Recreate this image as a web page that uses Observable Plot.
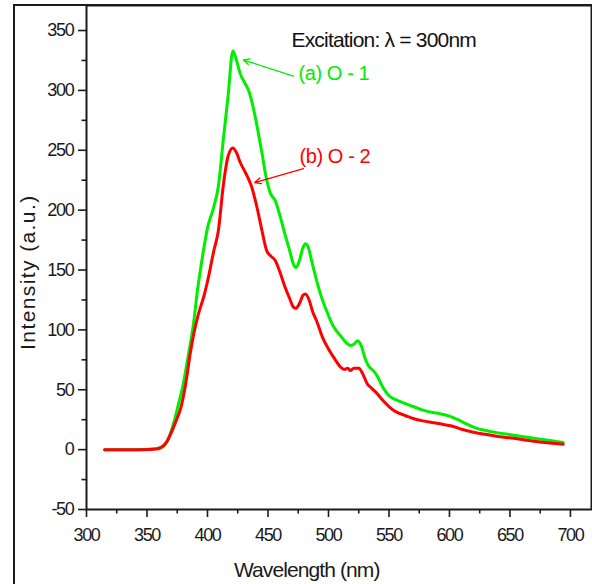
<!DOCTYPE html>
<html>
<head>
<meta charset="utf-8">
<script src="https://cdn.jsdelivr.net/npm/d3@7"></script>
<script src="https://cdn.jsdelivr.net/npm/@observablehq/plot@0.6"></script>
<style>
  body { margin: 0; background: #fff; }
  #wrap { position: relative; width: 592px; height: 584px; overflow: hidden; }
  #border { position: absolute; left: 13px; top: 4px; width: 600px; height: 600px;
            border-left: 2px solid #1a1a1a; border-top: 2px solid #1a1a1a; pointer-events: none; }
  svg { font-family: "Liberation Sans", Arial, sans-serif; }
</style>
</head>
<body>
<div id="wrap"><div id="border"></div></div>
<script>
// Wavelength (nm) and intensity (a.u.) for sample O-1 (green)
const wlO1 = [315, 340, 355, 360, 364, 368, 372, 376, 380, 384, 388, 392, 396, 400, 405, 409, 413, 417, 421, 424, 427, 431, 434, 438, 441, 445, 448, 452, 456, 460, 464, 468, 471, 473, 476, 479, 481, 483, 486, 490, 494, 498, 504, 510, 515, 518, 521, 524, 527, 530, 533, 537, 540, 545, 550, 555, 562, 570, 578, 586, 592, 600, 607, 615, 622, 630, 640, 650, 660, 670, 680, 694];
const intO1 = [0, 0, 0.5, 1.5, 3, 10, 22, 38, 55, 78, 102, 135, 162, 185, 202, 220, 258, 295, 333, 325, 314, 306, 300, 285, 270, 248, 230, 214, 208, 195, 180, 166, 155, 152, 158, 169, 172, 170, 158, 142, 128, 117, 103, 95, 89, 87, 88, 91, 87, 77, 70, 66, 62, 52, 45, 42, 39, 36, 33, 31, 30, 28, 25, 21, 18, 16, 14, 12.5, 11, 9.5, 8, 6];

// Sample O-2 (red)
const wlO2 = [315, 345, 358, 362, 366, 370, 374, 378, 382, 386, 390, 393, 397, 401, 405, 409, 413, 417, 421, 424, 427, 430, 433, 436, 441, 445, 449, 452, 456, 460, 464, 468, 471, 473, 476, 479, 481, 484, 487, 490, 495, 500, 505, 510, 513, 516, 518, 521, 525, 528, 532, 536, 540, 545, 550, 555, 562, 570, 578, 587, 595, 601, 610, 620, 628, 640, 656, 670, 683, 694];
const intO2 = [0, 0, 0.5, 2, 6, 14, 24, 35, 55, 82, 103, 115, 128, 145, 165, 183, 220, 245, 252, 248, 240, 234, 228, 221, 202, 183, 166, 162, 158, 148, 136, 126, 119, 118, 122, 129, 130, 125, 115, 108, 94, 84, 76, 69, 67, 68, 66, 68, 68, 64, 55, 51, 47, 41, 36, 32, 29, 26, 24, 22.5, 21, 20, 17, 14.5, 13, 11, 9, 7, 5.5, 4.5];

const seriesNames = ["O-1", "O-2"];
const seriesColors = ["#00ee00", "#ff0000"];

// Tick values
const xMajor = [300, 350, 400, 450, 500, 550, 600, 650, 700];
const xMinor = [325, 375, 425, 475, 525, 575, 625, 675];
const yMajor = [-50, 0, 50, 100, 150, 200, 250, 300, 350];
const yMinor = [-25, 25, 75, 125, 175, 225, 275, 325];

// Annotations
const annoText = ["Excitation: \u03bb = 300nm", "(a) O - 1", "(b) O - 2"];
const annoX = [469.4, 475.2, 476.0];
const annoY = [341.5, 313.7, 244.7];
const annoColor = ["#111111", "#00ee00", "#ff0000"];

const arrowX1 = [471, 479.3];
const arrowY1 = [312, 234.6];
const arrowX2 = [429.5, 439];
const arrowY2 = [325.5, 223];
const arrowColor = ["#00ee00", "#ff0000"];

const xTitle = "Wavelength (nm)";
const yTitle = "Intensity (a.u.)";

const dataO1 = wlO1.map((w, i) => ({wl: w, v: intO1[i], s: seriesNames[0]}));
const dataO2 = wlO2.map((w, i) => ({wl: w, v: intO2[i], s: seriesNames[1]}));
const annos = annoText.map((t, i) => ({t, x: annoX[i], y: annoY[i], c: annoColor[i]}));
const arrows = arrowX1.map((x, i) => ({x1: x, y1: arrowY1[i], x2: arrowX2[i], y2: arrowY2[i], c: arrowColor[i]}));

const fmt = d => String(d);

const chart = Plot.plot({
  width: 592,
  height: 584,
  marginLeft: 86,
  marginRight: 1,
  marginTop: 5,
  marginBottom: 75,
  style: {fontFamily: "'Liberation Sans', Arial, sans-serif", color: "#1a1a1a", background: "transparent"},
  x: {domain: [300, 717.4], axis: null},
  y: {domain: [-50, 370.9], axis: null},
  marks: [
    Plot.axisX(xMajor, {tickSize: 8, tickPadding: 11, fontSize: 18, label: null, strokeWidth: 1.6, tickFormat: fmt}),
    Plot.axisX(xMinor, {tickSize: 4.5, tickFormat: () => "", label: null, strokeWidth: 1.6}),
    Plot.axisY(yMajor, {tickSize: 8, tickPadding: 5, fontSize: 18, label: null, strokeWidth: 1.6, tickFormat: fmt}),
    Plot.axisY(yMinor, {tickSize: 4.5, tickFormat: () => "", label: null, strokeWidth: 1.6}),
    Plot.line(dataO1, {x: "wl", y: "v", stroke: seriesColors[0], strokeWidth: 3, curve: "monotone-x"}),
    Plot.line(dataO2, {x: "wl", y: "v", stroke: seriesColors[1], strokeWidth: 3, curve: "monotone-x"}),
    Plot.arrow(arrows, {x1: "x1", y1: "y1", x2: "x2", y2: "y2", stroke: "c", strokeWidth: 1.3, headLength: 8, headAngle: 50}),
    Plot.text(annos, {x: "x", y: "y", text: "t", fill: "c", textAnchor: "start", fontSize: 20, lineAnchor: "middle"}),
    Plot.text([xTitle], {x: 482, frameAnchor: "bottom", dy: 61, fontSize: 21, textAnchor: "middle", lineAnchor: "middle"}),
    Plot.text([yTitle], {y: 148.2, frameAnchor: "left", dx: -58, rotate: -90, fontSize: 21, textAnchor: "middle", lineAnchor: "middle"}),
    Plot.frame({stroke: "#1a1a1a", strokeWidth: 2})
  ]
});

document.getElementById("wrap").prepend(chart);

// typographic fine-tuning to match condensed look of original
const svg = d3.select(chart);
svg.selectAll('[aria-label="x-axis tick label"] text, [aria-label="y-axis tick label"] text').attr("letter-spacing", "-1.3px");
svg.selectAll('[aria-label="text"] text').each(function() {
  const t = this.textContent;
  if (t === xTitle) d3.select(this).attr("letter-spacing", "-0.9px");
  else if (t === yTitle) d3.select(this).attr("letter-spacing", "1.4px");
  else if (t.startsWith("Excitation")) d3.select(this).attr("letter-spacing", "-0.8px").attr("font-size", 21);
  else d3.select(this).attr("letter-spacing", "-0.4px");
});
</script>
</body>
</html>
